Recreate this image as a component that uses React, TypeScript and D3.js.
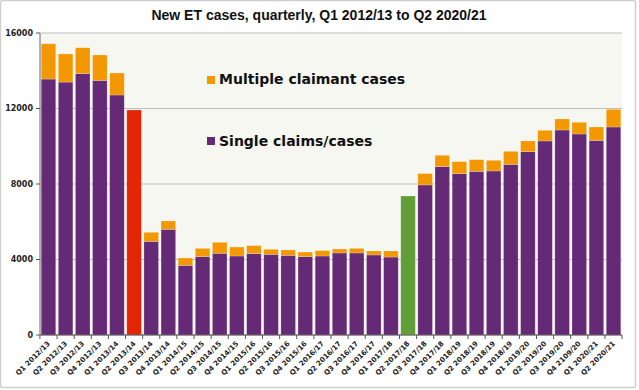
import React from "react";
import { scaleBand, scaleLinear } from "d3";

// quarters shown on the x axis (label typo kept as in the source chart)
const quarters = [
  "Q1 2012/13", "Q2 2012/13", "Q3 2012/13", "Q4 2012/13",
  "Q1 2013/14", "Q2 2013/14", "Q3 2013/14", "Q4 2013/14",
  "Q1 2014/15", "Q2 2014/15", "Q3 2014/15", "Q4 2014/15",
  "Q1 2015/16", "Q2 2015/16", "Q3 2015/16", "Q4 2015/16",
  "Q1 2016/17", "Q2 2016/17", "Q3 2016/17", "Q4 2016/17",
  "Q1 2017/18", "Q2 2017/18", "Q3 2017/18", "Q4 2017/18",
  "Q1 2018/19", "Q2 2018/19", "Q3 2018/19", "Q4 2018/19",
  "Q1 2019/20", "Q2 2019/20", "Q3 2019/20", "Q4 2109/20",
  "Q1 2020/21", "Q2 2020/21",
];

const singleCases = [
  13560, 13400, 13850, 13490, 12715, 11920, 4960, 5600,
  3690, 4150, 4330, 4185, 4310, 4275, 4220, 4150,
  4185, 4345, 4345, 4240, 4130, 7365, 7950, 8920,
  8550, 8670, 8690, 9040, 9710, 10280, 10860, 10650,
  10310, 11020,
];

const multipleCases = [
  1870, 1490, 1370, 1345, 1165, 0, 480, 440,
  390, 440, 580, 475, 425, 265, 285, 245,
  285, 210, 245, 210, 320, 0, 600, 600,
  635, 620, 565, 690, 570, 565, 585, 620,
  710, 935,
];

// highlighted quarters drawn as a single coloured bar
const highlight: Record<string, string> = {
  "Q2 2013/14": "#e32506",
  "Q2 2017/18": "#629e38",
};

const yTicks = [0, 4000, 8000, 12000, 16000];

const W = 639;
const H = 390;
const margin = { top: 33, right: 17, bottom: 55, left: 40 };
const innerW = W - margin.left - margin.right;
const innerH = H - margin.top - margin.bottom;

const PURPLE = "#652a75";
const ORANGE = "#f39800";

const App = () => {
  const x = scaleBand().domain(quarters).range([0, innerW]).paddingInner(0.15).paddingOuter(0.07);
  const y = scaleLinear().domain([0, 16000]).range([innerH, 0]);
  const step = x.step();

  return (
    <div style={{ position: "fixed", left: 0, top: 0 }}>
      <svg width={W} height={H} style={{ display: "block", fontFamily: "DejaVu Sans, Verdana, sans-serif" }}>
        <rect x={0} y={0} width={W} height={H} fill="#ffffff" />
        <rect x={0.5} y={0.5} width={635} height={387} fill="none" stroke="#cfcfcf" strokeWidth={1.5} rx={2} />

        <text x={319} y={20} textAnchor="middle" fontSize={14} fontWeight="bold" fill="#111"
          fontFamily="Liberation Sans, Arial, sans-serif">
          New ET cases, quarterly, Q1 2012/13 to Q2 2020/21
        </text>

        <g transform={`translate(${margin.left},${margin.top})`}>
          <rect x={0} y={0} width={innerW} height={innerH} fill="#f7f7f2" />
          {yTicks.map(t => (
            <g key={t} transform={`translate(0,${y(t)})`}>
              <line x2={innerW} stroke="#bdbdbd" />
              <line x1={-4} x2={0} stroke="#555" />
              <text x={-7} dy="0.35em" textAnchor="end" fontSize={8} fontWeight="bold" fill="#222">{t}</text>
            </g>
          ))}

          {quarters.map((q, i) => {
            const bx = x(q) as number;
            const hl = highlight[q];
            const s = singleCases[i];
            const m = multipleCases[i];
            return (
              <g key={q}>
                <rect x={bx} y={y(s)} width={x.bandwidth()} height={innerH - y(s)}
                  fill={hl || PURPLE} stroke="#ffffff" strokeOpacity={0.35} strokeWidth={0.6} />
                {m > 0 && (
                  <rect x={bx} y={y(s + m)} width={x.bandwidth()} height={y(s) - y(s + m)}
                    fill={ORANGE} stroke="#ffffff" strokeOpacity={0.35} strokeWidth={0.6} />
                )}
              </g>
            );
          })}

          <line x1={0} x2={0} y1={0} y2={innerH} stroke="#666" />
          <line x1={0} x2={innerW} y1={innerH} y2={innerH} stroke="#555" />
          {quarters.map(q => {
            const tx = (x(q) as number) - (step - x.bandwidth()) / 2;
            return <line key={"t" + q} x1={tx} x2={tx} y1={innerH} y2={innerH + 4} stroke="#555" />;
          })}
          <line x1={innerW} x2={innerW} y1={innerH} y2={innerH + 4} stroke="#555" />

          {quarters.map(q => {
            const cx = (x(q) as number) + x.bandwidth() / 2 + 2;
            return (
              <text key={"l" + q} transform={`translate(${cx},${innerH + 9}) rotate(-45)`}
                textAnchor="end" fontSize={7} fontWeight="bold" fill="#222">{q}</text>
            );
          })}

          <rect x={207 - margin.left} y={76 - margin.top} width={8} height={8} fill={ORANGE} />
          <text x={219 - margin.left} y={84 - margin.top} fontSize={14} fontWeight="bold" fill="#111">
            Multiple claimant cases
          </text>
          <rect x={207 - margin.left} y={137 - margin.top} width={8} height={8} fill={PURPLE} />
          <text x={219 - margin.left} y={146 - margin.top} fontSize={14} fontWeight="bold" fill="#111">
            Single claims/cases
          </text>
        </g>
      </svg>
    </div>
  );
};

export default App;
